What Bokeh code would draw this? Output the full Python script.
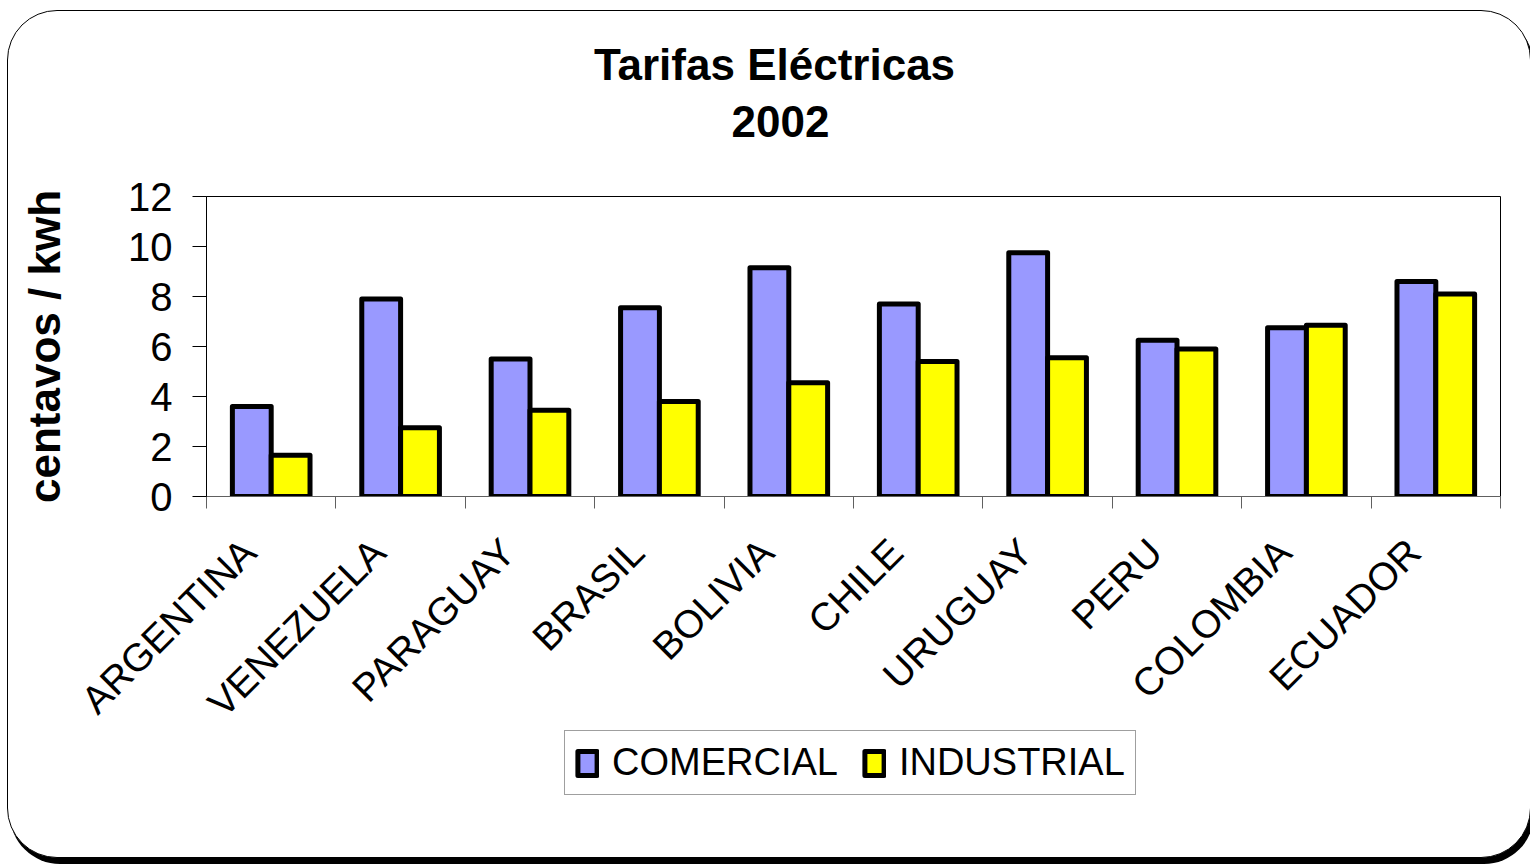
import numpy as np
from bokeh.plotting import figure
from bokeh.layouts import column
from bokeh.models import (ColumnDataSource, FixedTicker, Range1d, Legend, LegendItem, Label)
from bokeh.transform import dodge
from bokeh.embed import file_html
from bokeh.resources import INLINE

countries = ["ARGENTINA", "VENEZUELA", "PARAGUAY", "BRASIL", "BOLIVIA",
             "CHILE", "URUGUAY", "PERU", "COLOMBIA", "ECUADOR"]
comercial = [3.6, 7.9, 5.5, 7.55, 9.15, 7.7, 9.75, 6.25, 6.75, 8.6]
industrial = [1.65, 2.75, 3.45, 3.8, 4.55, 5.4, 5.55, 5.9, 6.85, 8.1]
y_ticks = [0, 2, 4, 6, 8, 10, 12]
title_lines = ["Tarifas Eléctricas", "2002"]
y_label = "centavos / kwh"
series_names = ["COMERCIAL", "INDUSTRIAL"]
colors = ["#9999FF", "#FFFF00"]

FONT = "Liberation Sans"
W = 1522
H0 = 160                 # title strip
H1 = 600                 # chart
H2, OVERLAP = 146, 60    # legend strip

pos = np.arange(len(countries)) + 0.5
src = ColumnDataSource(dict(x=pos, c=comercial, i=industrial))

strip_opts = dict(width=W, output_backend="svg", toolbar_location=None, title=None,
                  x_axis_location=None, y_axis_location=None, min_border=0,
                  border_fill_color=None, background_fill_color=None,
                  outline_line_color=None)

# ---- title strip ----
p0 = figure(height=H0, x_range=Range1d(0, 1), y_range=Range1d(0, 1), **strip_opts)
p0.xgrid.visible = False
p0.ygrid.visible = False
p0.add_layout(Label(x=568, y=107, x_units="screen", y_units="screen",
                    text=title_lines[0], text_font=FONT, text_font_size="44px",
                    text_font_style="bold", text_align="center",
                    text_baseline="alphabetic", text_color="black"))
p0.add_layout(Label(x=574, y=50, x_units="screen", y_units="screen",
                    text=title_lines[1], text_font=FONT, text_font_size="44px",
                    text_font_style="bold", text_align="center",
                    text_baseline="alphabetic", text_color="black"))

# ---- chart ----
p = figure(width=W, height=H1, output_backend="svg", toolbar_location=None,
           title=None,
           x_range=Range1d(0, len(countries)), y_range=Range1d(0, 12),
           min_border_left=198, min_border_right=30, min_border_top=25,
           min_border_bottom=275, border_fill_color=None,
           background_fill_color="white")
p.xgrid.visible = False
p.ygrid.visible = False
p.outline_line_color = "black"
p.outline_line_width = 1

bar_style = dict(width=0.3, source=src, line_color="black", line_width=5, line_join="round")
r1 = p.vbar(x=dodge("x", -0.15, range=p.x_range), top="c", fill_color=colors[0], **bar_style)
r2 = p.vbar(x=dodge("x", 0.15, range=p.x_range), top="i", fill_color=colors[1], **bar_style)

# y axis
p.yaxis.ticker = FixedTicker(ticks=y_ticks, minor_ticks=[])
p.yaxis.major_tick_in = 0
p.yaxis.major_tick_out = 14
p.yaxis.major_tick_line_color = "black"
p.yaxis.axis_line_color = "black"
p.yaxis.major_label_text_font = FONT
p.yaxis.major_label_text_font_size = "40px"
p.yaxis.major_label_text_color = "black"
p.yaxis.major_label_standoff = 20
p.yaxis.axis_label = y_label
p.yaxis.axis_label_text_font = FONT
p.yaxis.axis_label_text_font_size = "44px"
p.yaxis.axis_label_text_font_style = "bold"
p.yaxis.axis_label_text_color = "black"
p.yaxis.axis_label_standoff = 56

# x axis: labels near centres, tick marks at category boundaries (minor ticks)
label_pos = [float(v) - 0.17 for v in pos]
p.xaxis.ticker = FixedTicker(ticks=label_pos, minor_ticks=list(range(len(countries) + 1)))
p.xaxis.major_label_overrides = {v: c for v, c in zip(label_pos, countries)}
p.xaxis.major_tick_in = 0
p.xaxis.major_tick_out = 0
p.xaxis.minor_tick_in = 0
p.xaxis.minor_tick_out = 12
p.xaxis.minor_tick_line_color = "#606060"
p.xaxis.axis_line_color = "#606060"
p.xaxis.major_label_orientation = np.pi / 4
p.xaxis.major_label_text_font = FONT
p.xaxis.major_label_text_font_size = "39px"
p.xaxis.major_label_text_color = "black"
p.xaxis.major_label_standoff = 37

# ---- legend strip (overlaps the bottom margin of the chart) ----
p2 = figure(height=H2, x_range=Range1d(100, 101), y_range=Range1d(100, 101),
            margin=(-OVERLAP, 0, 0, 0), **strip_opts)
p2.xgrid.visible = False
p2.ygrid.visible = False
lr1 = p2.vbar(x="x", top="c", fill_color=colors[0], visible=False, **bar_style)
lr2 = p2.vbar(x="x", top="i", fill_color=colors[1], visible=False, **bar_style)
legend = Legend(items=[LegendItem(label=series_names[0], renderers=[lr1]),
                       LegendItem(label=series_names[1], renderers=[lr2])],
                orientation="horizontal", location=(358, 62),
                label_text_font=FONT, label_text_font_size="38px",
                label_text_color="black", glyph_width=24, glyph_height=30,
                label_standoff=13, spacing=24, padding=10, margin=0,
                border_line_color="#404040", border_line_width=1,
                background_fill_color="white", background_fill_alpha=1.0,
                inactive_fill_alpha=0.0)
p2.add_layout(legend, "center")

layout = column(p0, p, p2, spacing=0,
                styles={"border": "1.5px solid black", "border-radius": "50px",
                        "box-shadow": "3px 6px 0 0 black", "background-color": "white",
                        "overflow": "hidden", "margin-top": "10px", "margin-left": "7px"})

open("out.html", "w").write(file_html(layout, INLINE))
